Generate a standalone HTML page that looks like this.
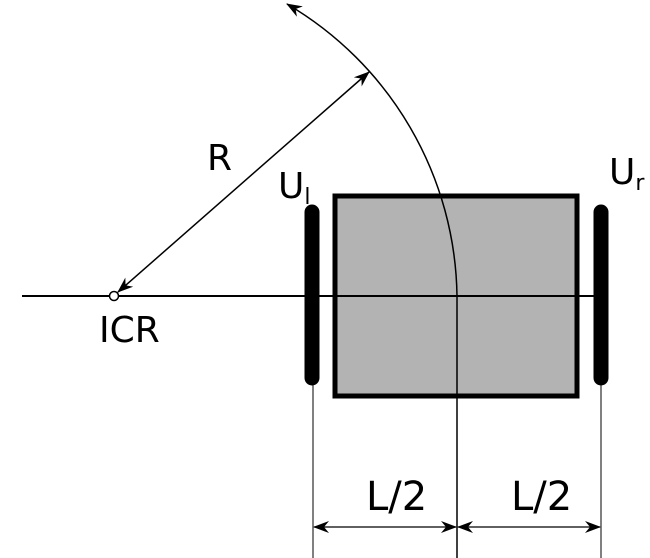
<!DOCTYPE html>
<html><head><style>html,body{margin:0;padding:0;background:#fff}svg{display:block}</style></head>
<body>
<svg width="650" height="558" viewBox="0 0 650 558" xmlns="http://www.w3.org/2000/svg">
<defs>
<marker id="a" viewBox="0 0 16 12" refX="15" refY="6" markerWidth="16" markerHeight="12" markerUnits="userSpaceOnUse" orient="auto-start-reverse">
<path d="M0,0 L16,6 L0,12 L5,6 Z" fill="#000"/>
</marker>
</defs>
<rect x="335" y="196" width="242" height="200" fill="#b3b3b3" stroke="#000" stroke-width="5"/>
<line x1="22" y1="296" x2="606" y2="296" stroke="#000" stroke-width="2"/>
<line x1="457" y1="296" x2="457" y2="558" stroke="#000" stroke-width="1.5"/>
<path d="M457,296 A344,344 0 0 0 287,4" fill="none" stroke="#000" stroke-width="1.5" marker-end="url(#a)"/>
<line x1="118" y1="292" x2="369" y2="72" stroke="#000" stroke-width="1.5" marker-start="url(#a)" marker-end="url(#a)"/>
<circle cx="114" cy="296" r="4.5" fill="#fff" stroke="#000" stroke-width="1.5"/>
<line x1="312" y1="212" x2="312" y2="378" stroke="#000" stroke-width="15" stroke-linecap="round"/>
<line x1="601" y1="212" x2="601" y2="378" stroke="#000" stroke-width="15" stroke-linecap="round"/>
<line x1="313" y1="380" x2="313" y2="558" stroke="#000" stroke-width="1"/>
<line x1="601" y1="380" x2="601" y2="558" stroke="#000" stroke-width="1"/>
<line x1="314" y1="527" x2="456" y2="527" stroke="#000" stroke-width="1.2" marker-start="url(#a)" marker-end="url(#a)"/>
<line x1="458" y1="527" x2="600" y2="527" stroke="#000" stroke-width="1.2" marker-start="url(#a)" marker-end="url(#a)"/>
<g font-family="DejaVu Sans, Liberation Sans, sans-serif" font-size="36" fill="#000">
<text x="207" y="170">R</text>
<text x="278" y="198">U<tspan font-size="22" dy="6">l</tspan></text>
<text x="609" y="184">U<tspan font-size="22" dy="6">r</tspan></text>
<text x="99" y="342">ICR</text>
<text x="366" y="510" font-size="40">L/2</text>
<text x="511" y="510" font-size="40">L/2</text>
</g>
</svg>
</body></html>
